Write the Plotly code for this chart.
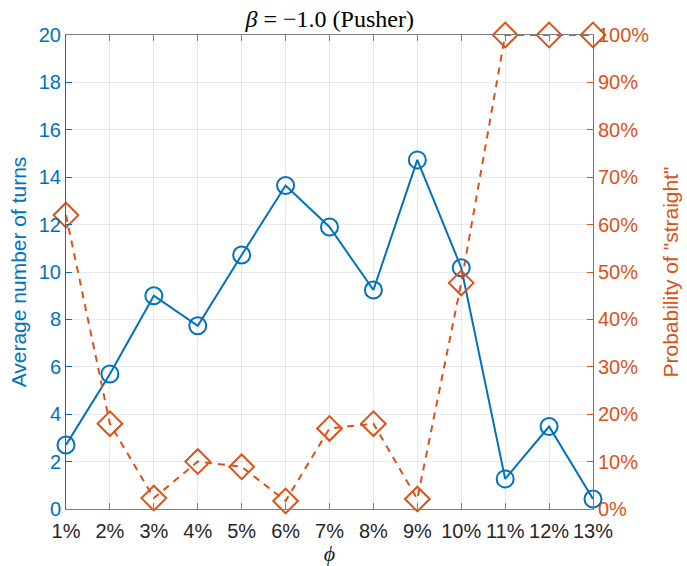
import plotly.graph_objects as go

# Volume fraction categories and measured quantities
phi_labels = ["1%", "2%", "3%", "4%", "5%", "6%", "7%", "8%", "9%", "10%", "11%", "12%", "13%"]
phi_pos = list(range(1, 14))
avg_turns = [2.7, 5.7, 9.0, 7.73, 10.72, 13.65, 11.9, 9.24, 14.73, 10.18, 1.27, 3.48, 0.42]
prob_straight = [62, 18, 2.3, 10, 8.9, 1.7, 17, 18, 2.1, 47.7, 100, 100, 100]

BLUE = "#0072BD"
ORANGE = "#D95319"
GRID = "rgba(60,90,110,0.12)"
FONT = "Liberation Sans, Arial, sans-serif"
SERIF = "Liberation Serif, DejaVu Serif, serif"

fig = go.Figure()

fig.add_trace(go.Scatter(
    x=phi_pos, y=avg_turns, mode="lines+markers",
    line=dict(color=BLUE, width=2),
    marker=dict(symbol="circle-open", size=17, color=BLUE, line=dict(width=2)),
    cliponaxis=False, showlegend=False, yaxis="y",
))

fig.add_trace(go.Scatter(
    x=phi_pos, y=prob_straight, mode="lines+markers",
    line=dict(color=ORANGE, width=2, dash="7px,6px"),
    marker=dict(symbol="diamond-open", size=19, color=ORANGE, line=dict(width=2)),
    cliponaxis=False, showlegend=False, yaxis="y2",
))

fig.update_layout(
    width=687, height=566,
    margin=dict(l=66, r=94, t=35, b=57),
    paper_bgcolor="white", plot_bgcolor="white",
    font=dict(family=FONT, size=20, color="#262626"),
    title=dict(text="<i>β</i> = −1.0 (Pusher)", x=0.48, xanchor="center",
               y=0.968, yanchor="middle",
               font=dict(family=SERIF, size=24, color="#000000")),
    xaxis=dict(
        range=[1, 13], tickvals=phi_pos, ticktext=phi_labels,
        automargin=False,
        showgrid=True, gridcolor=GRID, gridwidth=1,
        showline=True, linecolor="#7f7f7f", linewidth=1, mirror="ticks",
        ticks="inside", ticklen=6, tickcolor="#7f7f7f",
        ticklabelstandoff=4,
        tickfont=dict(family=FONT, size=20, color="#262626"),
        title=dict(text="<i>ϕ</i>", font=dict(family=SERIF, size=22, color="#262626"), standoff=4),
        zeroline=False,
    ),
    yaxis=dict(
        range=[0, 20], dtick=2,
        automargin=False,
        showgrid=True, gridcolor=GRID, gridwidth=1,
        showline=True, linecolor=BLUE, linewidth=1,
        ticks="inside", ticklen=6, tickcolor=BLUE,
        tickfont=dict(family=FONT, size=20, color=BLUE),
        title=dict(text="Average number of turns", font=dict(family=FONT, size=21, color=BLUE), standoff=6),
        zeroline=False,
    ),
    yaxis2=dict(
        range=[0, 100], dtick=10, ticksuffix="%",
        automargin=False,
        overlaying="y", side="right", showgrid=False,
        showline=True, linecolor=ORANGE, linewidth=1,
        ticks="inside", ticklen=6, tickcolor=ORANGE,
        tickfont=dict(family=FONT, size=20, color=ORANGE),
        title=dict(text="Probability of \"straight\"", font=dict(family=FONT, size=21, color=ORANGE), standoff=14),
        zeroline=False,
    ),
)

fig.write_html("out.html")
